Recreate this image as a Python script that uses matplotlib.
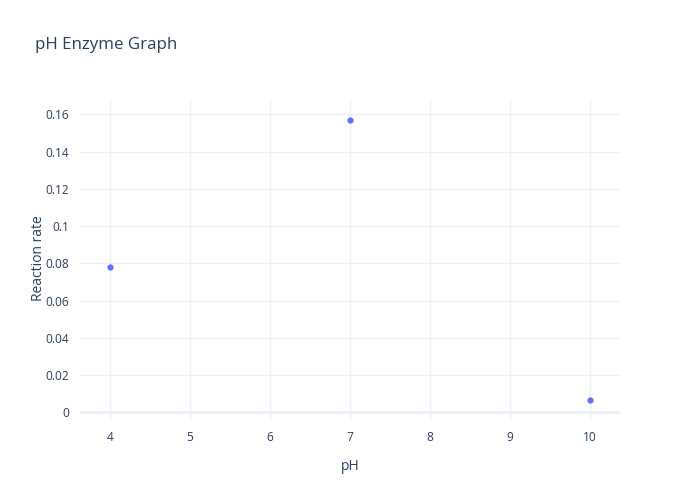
import matplotlib
matplotlib.use("Agg")
import matplotlib.pyplot as plt

ph = [4, 7, 10]
rate = [0.0782, 0.1572, 0.0066]
xticks = [4, 5, 6, 7, 8, 9, 10]
yticks = [0, 0.02, 0.04, 0.06, 0.08, 0.1, 0.12, 0.14, 0.16]
ytick_labels = ["0", "0.02", "0.04", "0.06", "0.08", "0.1", "0.12", "0.14", "0.16"]

plt.rcParams['font.family'] = ['Open Sans', 'DejaVu Sans']
txt = '#2a3f5f'
grid = '#ebf0f8'

fig = plt.figure(figsize=(7, 5), dpi=100)
ax = fig.add_axes([80/700, 80/500, 540/700, 320/500])
ax.set_xlim(3.625, 10.375)
ax.set_ylim(-0.0041, 0.1677)
for s in ax.spines.values():
    s.set_visible(False)
ax.set_xticks(xticks)
ax.set_yticks(yticks)
ax.set_yticklabels(ytick_labels)
ax.tick_params(length=0, labelsize=8.6, colors=txt, pad=8)
ax.grid(True, color=grid, linewidth=1)
ax.set_axisbelow(True)
ax.axhline(0, color=grid, linewidth=2, zorder=1)
ax.plot(ph, rate, 'o', color='#636efa', markersize=4.5, markeredgewidth=0, zorder=3)

fig.text(35/700, 1 - 45/500, 'pH Enzyme Graph', fontsize=12.2, color=txt, va='center', ha='left')
fig.text(350/700, 1 - 467/500, 'pH', fontsize=10, color=txt, ha='center', va='center')
fig.text(38/700, 1 - 258/500, 'Reaction rate', fontsize=10, color=txt, ha='center', va='center', rotation=90)

fig.savefig('out.png', dpi=100)
